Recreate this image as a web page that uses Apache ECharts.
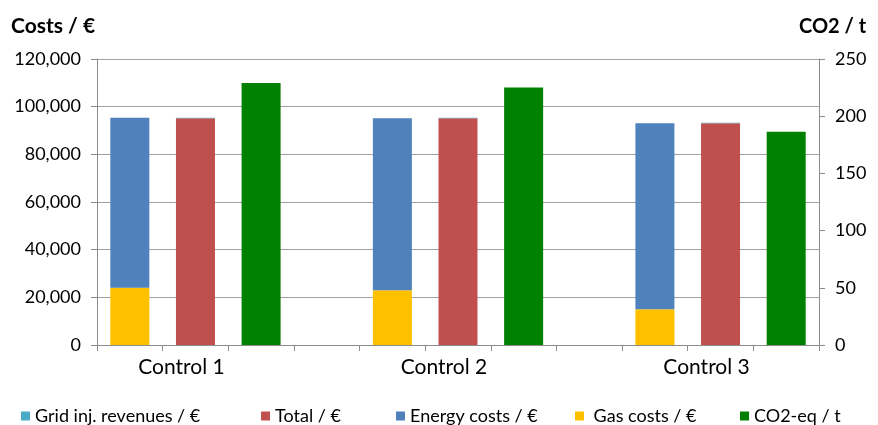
<!DOCTYPE html>
<html>
<head>
<meta charset="utf-8">
<script src="https://cdn.jsdelivr.net/npm/echarts@6/dist/echarts.min.js"></script>
<style>
  html, body { margin: 0; padding: 0; background: #fff; }
  #chart { width: 878px; height: 425px; }
</style>
</head>
<body>
<div id="chart"></div>
<script>
// groups along the x axis
var groups = ['Control 1', 'Control 2', 'Control 3'];
// values per group
var gasCosts = [24000, 23000, 15000];
var energyCosts = [71400, 72100, 78000];
var totalCosts = [95100, 95100, 93000];
var gridRevenues = [300, 200, 200];
var co2 = [229, 225, 186.5];
var costTicks = [0, 20000, 40000, 60000, 80000, 100000, 120000];
var co2Ticks = [0, 50, 100, 150, 200, 250];

// every group takes 3 slots plus one empty gap slot
var categories = [];
groups.forEach(function (g, i) {
    categories.push(g + '_a', g, g + '_c');
    if (i < groups.length - 1) categories.push('gap' + i);
});

function slotData(values, offset) {
    var out = categories.map(function () { return '-'; });
    values.forEach(function (v, i) { out[i * 4 + offset] = v; });
    return out;
}

var chart = echarts.init(document.getElementById('chart'));
var font = 'Lato, "Open Sans", sans-serif';
var gray = '#8c8c8c';

var legendNames = ['Grid inj. revenues / €', 'Total / €', 'Energy costs / €', ' Gas costs / €', 'CO2-eq / t'];
var legendLeft = [16, 256, 391, 570, 735];

function bar(name, stack, color, values, offset, axis) {
    return {
        name: name, type: 'bar', stack: stack, yAxisIndex: axis || 0,
        barWidth: 39, barGap: '-100%',
        itemStyle: { color: color },
        data: slotData(values, offset)
    };
}

var option = {
    animation: false,
    grid: { left: 97, right: 59, top: 59, bottom: 80 },
    legend: legendNames.map(function (n, i) {
        return {
            data: [n],
            left: legendLeft[i],
            top: 402,
            itemWidth: 9,
            itemHeight: 9,
            itemGap: 6,
            icon: 'rect',
            textStyle: { fontFamily: font, fontSize: 18, color: '#000' }
        };
    }),
    xAxis: {
        type: 'category',
        data: categories,
        axisLine: { lineStyle: { color: gray } },
        axisTick: { show: true, interval: 0, length: 6, lineStyle: { color: gray } },
        axisLabel: {
            interval: 0,
            margin: 12,
            fontFamily: font,
            fontSize: 21,
            color: '#000',
            padding: [0, 28, 0, 0],
            formatter: function (v) { return groups.indexOf(v) >= 0 ? v : ''; }
        }
    },
    yAxis: [{
        type: 'value',
        name: 'Costs / €',
        nameLocation: 'end',
        nameGap: 22,
        nameTextStyle: { fontFamily: font, fontSize: 21, fontWeight: 'bold', color: '#000', align: 'left', padding: [0, 0, 0, -86] },
        min: costTicks[0],
        max: costTicks[costTicks.length - 1],
        interval: costTicks[1] - costTicks[0],
        axisLine: { show: true, lineStyle: { color: gray } },
        axisTick: { show: true, length: 6, lineStyle: { color: gray } },
        axisLabel: {
            margin: 16,
            fontFamily: font,
            fontSize: 18,
            color: '#000',
            formatter: function (v) { return v.toLocaleString('en-US'); }
        },
        splitLine: { lineStyle: { color: '#a0a0a0' } }
    }, {
        type: 'value',
        name: 'CO2 / t',
        nameLocation: 'end',
        nameGap: 22,
        nameTextStyle: { fontFamily: font, fontSize: 20, fontWeight: 'bold', color: '#000', align: 'left', padding: [0, 0, 0, -20] },
        min: co2Ticks[0],
        max: co2Ticks[co2Ticks.length - 1],
        interval: co2Ticks[1] - co2Ticks[0],
        axisLine: { show: true, lineStyle: { color: gray } },
        axisTick: { show: true, length: 6, lineStyle: { color: gray } },
        axisLabel: { margin: 16, fontFamily: font, fontSize: 18, color: '#000' },
        splitLine: { show: false }
    }],
    // stacking order: gas at bottom, energy on top; grid revenues on top of total
    series: [
        bar(' Gas costs / €', 'cost', '#FFC000', gasCosts, 0),
        bar('Energy costs / €', 'cost', '#4F81BD', energyCosts, 0),
        bar('Total / €', 'total', '#C0504D', totalCosts, 1),
        bar('Grid inj. revenues / €', 'total', '#4BACC6', gridRevenues, 1),
        bar('CO2-eq / t', null, '#008000', co2, 2, 1)
    ]
};
chart.setOption(option);
</script>
</body>
</html>
